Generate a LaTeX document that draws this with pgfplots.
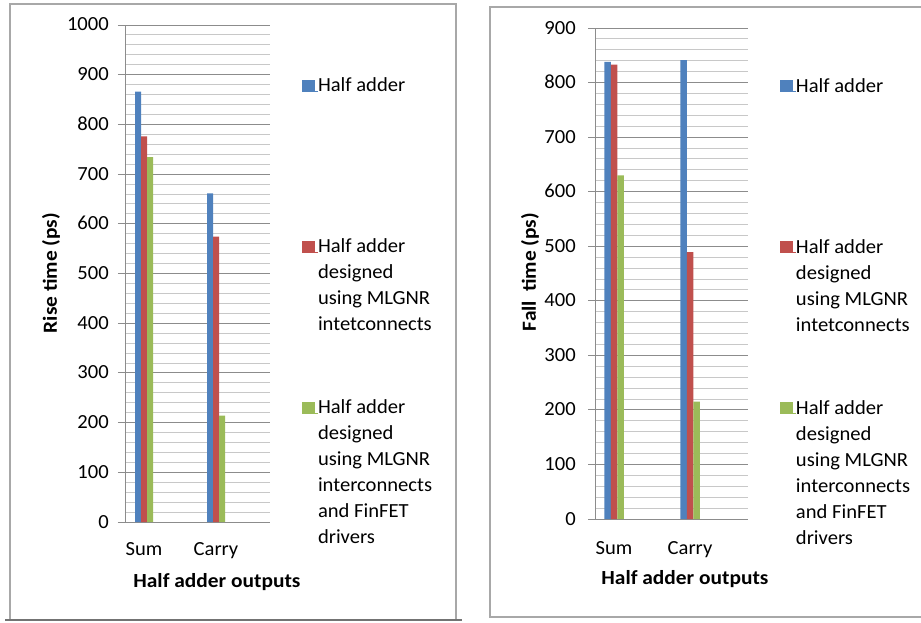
\documentclass[border=0pt]{standalone}
\usepackage{fontspec}
\setmainfont{Carlito}[FakeStretch=1.03, BoldFeatures={FakeStretch=1.07}]
\usepackage{pgfplots}
\pgfplotsset{compat=1.18}

\definecolor{barblue}{HTML}{4F81BD}
\definecolor{barred}{HTML}{C0504D}
\definecolor{bargreen}{HTML}{9BBB59}
\definecolor{majgrid}{HTML}{8C8C8C}
\definecolor{mingrid}{HTML}{C8C8C8}
\definecolor{framegray}{HTML}{A8A8A8}

% legend text: a top-aligned paragraph whose node gets a fixed height and
% depth, so that the entries are spread down the right-hand side
\newcommand{\legtext}[1]{\parbox[t]{150pt}{\raggedright #1}}
\tikzset{legrow/.style={text height=15pt, text depth=146pt}}

\pgfplotsset{
  sqkey/.style={legend image code/.code={%
      \path (0pt,0pt) rectangle (16pt,1pt);
      \fill[#1] (0pt,0pt) rectangle (13pt,12pt);}},
  excelbars/.style={
    scale only axis,
    anchor=south west,
    ybar=0pt,
    axis x line*=bottom,
    axis y line*=left,
    axis line style={majgrid, line width=0.9pt},
    x axis line style={shorten <=-7pt},
    xtick={0,1},
    xticklabels={Sum,Carry},
    major x tick style={draw=none},
    xticklabel style={anchor=base, inner sep=0pt},
    minor y tick num=4,
    ymajorgrids, yminorgrids,
    major grid style={majgrid, line width=0.9pt},
    minor grid style={mingrid, line width=0.9pt},
    tick align=outside,
    major tick length=7pt,
    minor tick length=0pt,
    major y tick style={majgrid, line width=0.9pt},
    minor y tick style={draw=none},
    yticklabel style={anchor=base east, inner sep=0pt, yshift=-6pt},
    scaled y ticks=false,
    /pgf/number format/assume math mode=true,
    /pgf/number format/1000 sep={},
    ylabel style={font=\fontsize{20}{26}\selectfont\bfseries, anchor=center, rotate=0},
    xlabel style={font=\fontsize{20}{26}\selectfont\bfseries, anchor=base},
    legend style={draw=none, fill=none, inner sep=0pt, outer sep=0pt,
      row sep=0pt, column sep=0pt, anchor=north west,
      cells={anchor=base west}, nodes={inner sep=0pt, outer sep=0pt},
      font=\fontsize{20}{26}\selectfont},
  },
}

\begin{document}
\begin{tikzpicture}[x=1pt, y=1pt, font=\fontsize{20}{26}\selectfont]
\path[use as bounding box] (0,0) rectangle (921,622);

% panel borders
\draw[framegray, line width=1.2pt] (10,618) rectangle (456,2);
\draw[black!55, line width=1.5pt] (5,2) -- (462,2);
\draw[framegray, line width=1.2pt] (935,615) -- (490,615) -- (490,5) -- (935,5);

% rise time panel
\begin{axis}[excelbars,
  at={(125pt,100pt)},
  width=145pt, height=497pt,
  xmin=-0.264, xmax=1.75,
  ymin=0, ymax=1000,
  ytick={0,100,...,1000},
  bar width=6pt,
  yticklabel style={xshift=-9pt},
  xticklabel style={yshift=-26pt},
  ylabel={Rise time (ps)},
  ylabel style={at={(axis description cs:-0.510,0.501)}},
  xlabel={Half adder outputs},
  xlabel style={at={(axis description cs:0.634,-0.1308)}},
  legend style={at={(axis description cs:1.2207,0.8954)}},
]
\addplot[fill=barblue, draw=none, sqkey=barblue] coordinates {(0,866) (1,661)};
\addplot[fill=barred, draw=none, sqkey=barred] coordinates {(0,776) (1,574)};
\addplot[fill=bargreen, draw=none, sqkey=bargreen] coordinates {(0,734) (1,214)};
\addlegendentry[legrow]{\legtext{Half adder}}
\addlegendentry[legrow]{\legtext{Half adder\\designed\\using MLGNR\\intetconnects}}
\addlegendentry[legrow]{\legtext{Half adder\\designed\\using MLGNR\\interconnects\\and FinFET\\drivers}}
\end{axis}

% fall time panel
\begin{axis}[excelbars,
  at={(595pt,103pt)},
  width=153pt, height=491pt,
  xmin=-0.25, xmax=1.763,
  ymin=0, ymax=900,
  ytick={0,100,...,900},
  bar width=6.5pt,
  yticklabel style={xshift=-12pt},
  xticklabel style={yshift=-28pt},
  ylabel={Fall\hspace{0.45em}time (ps)},
  ylabel style={at={(axis description cs:-0.425,0.503)}},
  xlabel={Half adder outputs},
  xlabel style={at={(axis description cs:0.588,-0.1344)}},
  legend style={at={(axis description cs:1.209,0.9002)}},
]
\addplot[fill=barblue, draw=none, sqkey=barblue] coordinates {(0,838) (1,841)};
\addplot[fill=barred, draw=none, sqkey=barred] coordinates {(0,833) (1,489)};
\addplot[fill=bargreen, draw=none, sqkey=bargreen] coordinates {(0,630) (1,215)};
\addlegendentry[legrow]{\legtext{Half adder}}
\addlegendentry[legrow]{\legtext{Half adder\\designed\\using MLGNR\\intetconnects}}
\addlegendentry[legrow]{\legtext{Half adder\\designed\\using MLGNR\\interconnects\\and FinFET\\drivers}}
\end{axis}
\end{tikzpicture}
\end{document}
